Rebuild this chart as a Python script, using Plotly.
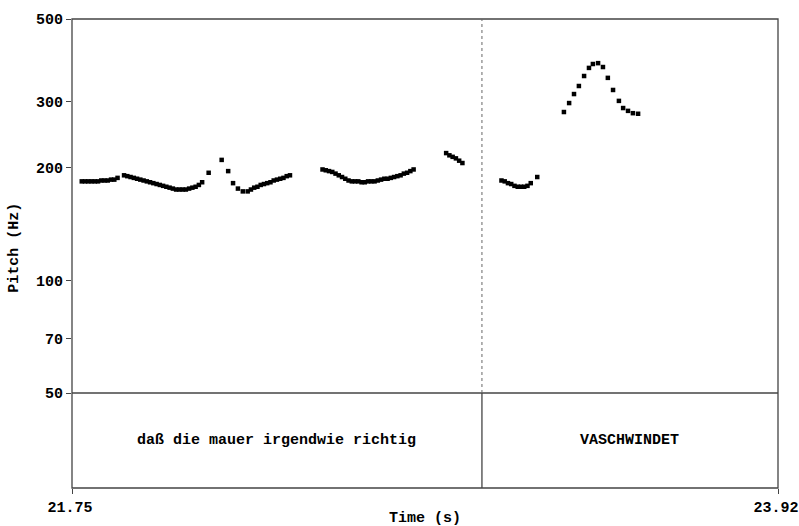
import numpy as np
import plotly.graph_objects as go

# ---- data ----
t_seg1 = [21.78, 21.79, 21.80, 21.81, 21.82, 21.83, 21.84, 21.85, 21.86, 21.87, 21.88, 21.89]
f_seg1 = [184, 184, 184, 184, 184, 184, 185, 185, 185, 186, 186, 188]

t_seg2 = [21.91, 21.92, 21.93, 21.94, 21.95, 21.96, 21.97, 21.98, 21.99, 22.00, 22.01, 22.02,
          22.03, 22.04, 22.05, 22.06, 22.07, 22.08, 22.09, 22.10, 22.11, 22.12, 22.13, 22.14,
          22.15, 22.17]
f_seg2 = [191, 190, 189, 188, 187, 186, 185, 184, 183, 182, 181, 180,
          179, 178, 177, 176, 175, 175, 175, 175, 176, 177, 178, 180,
          183, 194]

t_seg3 = [22.21, 22.23, 22.245, 22.26, 22.275, 22.29, 22.30, 22.31, 22.32, 22.33, 22.34, 22.35,
          22.36, 22.37, 22.38, 22.39, 22.40, 22.41, 22.42]
f_seg3 = [210, 196, 182, 176, 173, 173, 175, 177, 178, 180, 181, 182,
          183, 185, 186, 187, 188, 190, 191]

t_seg4 = [22.52, 22.53, 22.54, 22.55, 22.56, 22.57, 22.58, 22.59, 22.60, 22.61, 22.62, 22.63,
          22.64, 22.65, 22.66, 22.67, 22.68, 22.69, 22.70, 22.71, 22.72, 22.73, 22.74, 22.75,
          22.76, 22.77, 22.78, 22.79, 22.80]
f_seg4 = [198, 197, 196, 195, 193, 191, 189, 187, 185, 184, 184, 184,
          183, 183, 184, 184, 184, 185, 186, 187, 187, 188, 189, 190,
          191, 193, 194, 196, 198]

t_seg5 = [22.90, 22.91, 22.92, 22.93, 22.94, 22.95]
f_seg5 = [219, 216, 214, 212, 209, 206]

t_seg6 = [23.07, 23.08, 23.09, 23.10, 23.11, 23.12, 23.13, 23.14, 23.15, 23.16, 23.18]
f_seg6 = [185, 184, 182, 181, 179, 178, 178, 178, 179, 182, 189]

t_seg7 = [23.262, 23.278, 23.293, 23.308, 23.324, 23.339, 23.351, 23.367, 23.382, 23.397,
          23.413, 23.431, 23.444, 23.459, 23.474, 23.490]
f_seg7 = [282, 298, 315, 331, 352, 370, 379, 381, 372, 348,
          323, 302, 289, 284, 280, 279]

y_ticks = [50, 70, 100, 200, 300, 500]
y_ticktext = ["50", "70", "100", "200", "300", "500"]
x_range = [21.75, 23.92]
x_ticktext = ["21.75", "23.92"]
boundary_t = 23.01
tier_labels = ["daß die mauer irgendwie richtig", "VASCHWINDET"]

# ---- figure ----
times = t_seg1 + t_seg2 + t_seg3 + t_seg4 + t_seg5 + t_seg6 + t_seg7
pitch = f_seg1 + f_seg2 + f_seg3 + f_seg4 + f_seg5 + f_seg6 + f_seg7

FONT = "Liberation Mono"
LINE = "#444444"
tier_frac = 95 / 469
tfont = dict(family=FONT, size=15, color="black", weight="bold")

fig = go.Figure()
fig.add_trace(go.Scatter(
    x=times, y=pitch, mode="markers", xaxis="x", yaxis="y",
    marker=dict(symbol="square", size=4.5, color="black", line=dict(width=0)),
    showlegend=False, hoverinfo="x+y"))

fig.update_layout(
    width=799, height=526,
    margin=dict(l=72, r=21, t=19, b=38, autoexpand=False),
    paper_bgcolor="white", plot_bgcolor="white",
    font=tfont,
    xaxis=dict(range=x_range, tickvals=x_range, ticktext=x_ticktext,
               ticks="outside", ticklen=5, tickcolor=LINE, tickwidth=1,
               ticklabeloverflow="allow", ticklabelshift=-2,
               showgrid=False, zeroline=False, showline=False, automargin=False,
               anchor="y2", tickfont=tfont),
    yaxis=dict(type="log", range=[np.log10(50), np.log10(500)],
               domain=[tier_frac, 1], tickvals=y_ticks, ticktext=y_ticktext,
               ticks="outside", ticklen=5, tickcolor=LINE, tickwidth=1,
               ticklabeloverflow="allow",
               showgrid=False, zeroline=False, showline=False, anchor="x",
               automargin=False, tickfont=tfont),
    yaxis2=dict(range=[0, 1], domain=[0, tier_frac], showticklabels=False,
                ticks="", showgrid=False, zeroline=False, showline=False,
                automargin=False, anchor="x"),
)

shapes = [
    dict(type="rect", xref="paper", yref="paper", x0=0, x1=1, y0=0, y1=1,
         line=dict(color=LINE, width=1.3)),
    dict(type="line", xref="paper", yref="paper", x0=0, x1=1, y0=tier_frac, y1=tier_frac,
         line=dict(color=LINE, width=1.3)),
    dict(type="line", xref="x", yref="y", x0=boundary_t, x1=boundary_t, y0=50, y1=500,
         line=dict(color="#666666", width=1, dash="dot")),
    dict(type="line", xref="x", yref="y2", x0=boundary_t, x1=boundary_t, y0=0, y1=1,
         line=dict(color=LINE, width=1.3)),
]
fig.update_layout(shapes=shapes)

annotations = [
    dict(x=(x_range[0] + boundary_t) / 2, y=0.5, xref="x", yref="y2",
         text=tier_labels[0], showarrow=False, font=tfont),
    dict(x=(boundary_t + x_range[1]) / 2, y=0.5, xref="x", yref="y2",
         text=tier_labels[1], showarrow=False, font=tfont),
    dict(x=0.5, y=-30 / 469, xref="paper", yref="paper", text="Time (s)",
         showarrow=False, xanchor="center", yanchor="middle", font=tfont),
    dict(x=-57 / 706, y=0.512, xref="paper", yref="paper", text="Pitch (Hz)",
         textangle=-90, showarrow=False, xanchor="center", yanchor="middle", font=tfont),
]
fig.update_layout(annotations=annotations)

# remove the default 8px page margin so the 799x526 figure fills the window exactly
fig.write_html("out.html", config={"displayModeBar": False},
               post_script="document.body.style.margin='0px';")
